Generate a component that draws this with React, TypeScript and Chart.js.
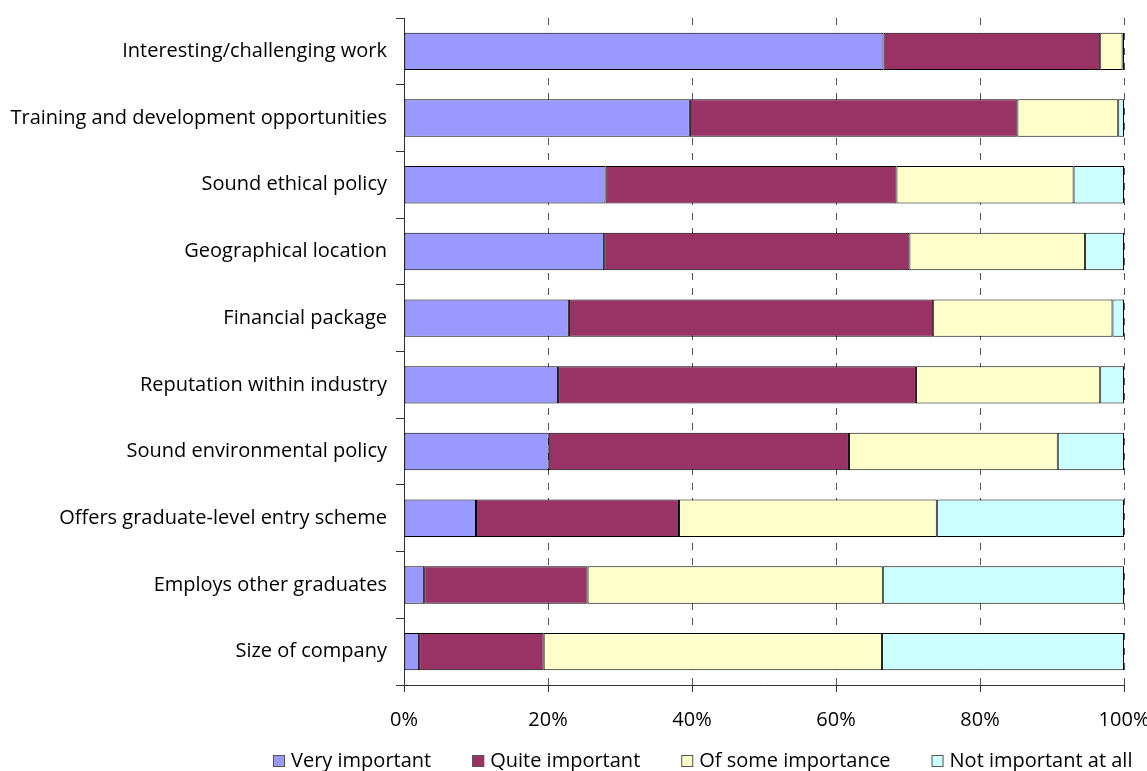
import React, { useEffect, useRef } from "react";
import { Chart, registerables } from "chart.js";

Chart.register(...registerables);

const categories = [
  "Interesting/challenging work",
  "Training and development opportunities",
  "Sound ethical policy",
  "Geographical location",
  "Financial package",
  "Reputation within industry",
  "Sound environmental policy",
  "Offers graduate-level entry scheme",
  "Employs other graduates",
  "Size of company",
];

const veryImportant = [66.6, 39.7, 28.0, 27.8, 22.9, 21.4, 20.1, 10.0, 2.8, 2.1];
const quiteImportant = [30.1, 45.5, 40.4, 42.4, 50.6, 49.7, 41.7, 28.2, 22.7, 17.3];
const someImportance = [3.1, 14.0, 24.6, 24.4, 24.9, 25.6, 29.0, 35.8, 41.0, 47.0];
const notImportant = [0.2, 0.8, 7.0, 5.4, 1.6, 3.3, 9.2, 26.0, 33.5, 33.6];

const seriesNames = ["Very important", "Quite important", "Of some importance", "Not important at all"];
const seriesColors = ["#9999FF", "#993366", "#FFFFCC", "#CCFFFF"];

const xTicks = [0, 20, 40, 60, 80, 100];

const FONT_FAMILY = "'Open Sans', sans-serif";
const FONT_SIZE = 20;

// Legend row drawn beneath the x axis
const legendPlugin = {
  id: "bottomLegend",
  afterDraw(chart: any) {
    const ctx = chart.ctx as CanvasRenderingContext2D;
    ctx.save();
    ctx.font = `${FONT_SIZE}px ${FONT_FAMILY}`;
    ctx.textBaseline = "middle";
    ctx.textAlign = "left";
    const cy = 761;
    let x = 273;
    chart.data.datasets.forEach((ds: any) => {
      ctx.fillStyle = ds.backgroundColor;
      ctx.fillRect(x, cy - 6, 12, 12);
      ctx.strokeStyle = "#555";
      ctx.lineWidth = 1;
      ctx.strokeRect(x + 0.5, cy - 5.5, 11, 11);
      ctx.fillStyle = "#000";
      ctx.fillText(ds.label, x + 18, cy);
      x += 18 + ctx.measureText(ds.label).width + 41;
    });
    ctx.restore();
  },
};

export default function App() {
  const canvasRef = useRef<HTMLCanvasElement | null>(null);

  useEffect(() => {
    document.body.style.margin = "0";
    const canvas = canvasRef.current;
    if (!canvas) return;
    const values = [veryImportant, quiteImportant, someImportance, notImportant];
    const chart = new Chart(canvas, {
      type: "bar",
      data: {
        labels: categories,
        datasets: values.map((data, i) => ({
          label: seriesNames[i],
          data,
          backgroundColor: seriesColors[i],
          borderColor: "#000",
          borderWidth: 1,
          borderSkipped: false,
          barPercentage: 0.56,
          categoryPercentage: 1,
        })),
      },
      options: {
        indexAxis: "y",
        animation: false,
        responsive: false,
        maintainAspectRatio: false,
        layout: { padding: { top: 18, right: 23, bottom: 36, left: 0 } },
        plugins: {
          legend: { display: false },
          tooltip: { enabled: false },
        },
        scales: {
          x: {
            stacked: true,
            min: 0,
            max: 100,
            afterBuildTicks(scale: any) {
              scale.ticks = xTicks.map((v) => ({ value: v }));
            },
            afterFit(scale: any) {
              scale.height = 50;
              scale.paddingLeft = 0;
              scale.paddingRight = 0;
            },
            border: { display: true, color: "#333", width: 1, dash: [7, 8] },
            grid: {
              color: (c: any) => (c.tick && c.tick.value === 0 ? "rgba(0,0,0,0)" : "#555"),
              tickBorderDash: [],
              tickColor: "#333",
              tickLength: 7,
              lineWidth: 1,
              drawOnChartArea: true,
            },
            ticks: {
              color: "#000",
              padding: 16,
              maxRotation: 0,
              font: { family: FONT_FAMILY, size: FONT_SIZE },
              callback: (v: any) => `${v}%`,
            },
          },
          y: {
            stacked: true,
            afterFit(scale: any) {
              scale.width = 404;
              scale.paddingTop = 0;
              scale.paddingBottom = 0;
            },
            border: { display: true, color: "#333", width: 1 },
            grid: {
              offset: true,
              drawOnChartArea: false,
              drawTicks: true,
              tickLength: 8,
              tickColor: "#333",
              color: "#333",
            },
            ticks: {
              color: "#000",
              padding: 9,
              font: { family: FONT_FAMILY, size: FONT_SIZE },
            },
          },
        },
      },
      plugins: [legendPlugin],
    });
    return () => chart.destroy();
  }, []);

  return (
    <div style={{ position: "absolute", left: 0, top: 0, width: 1147, height: 771, background: "#fff" }}>
      <canvas ref={canvasRef} width={1147} height={771} style={{ width: 1147, height: 771 }} />
    </div>
  );
}
